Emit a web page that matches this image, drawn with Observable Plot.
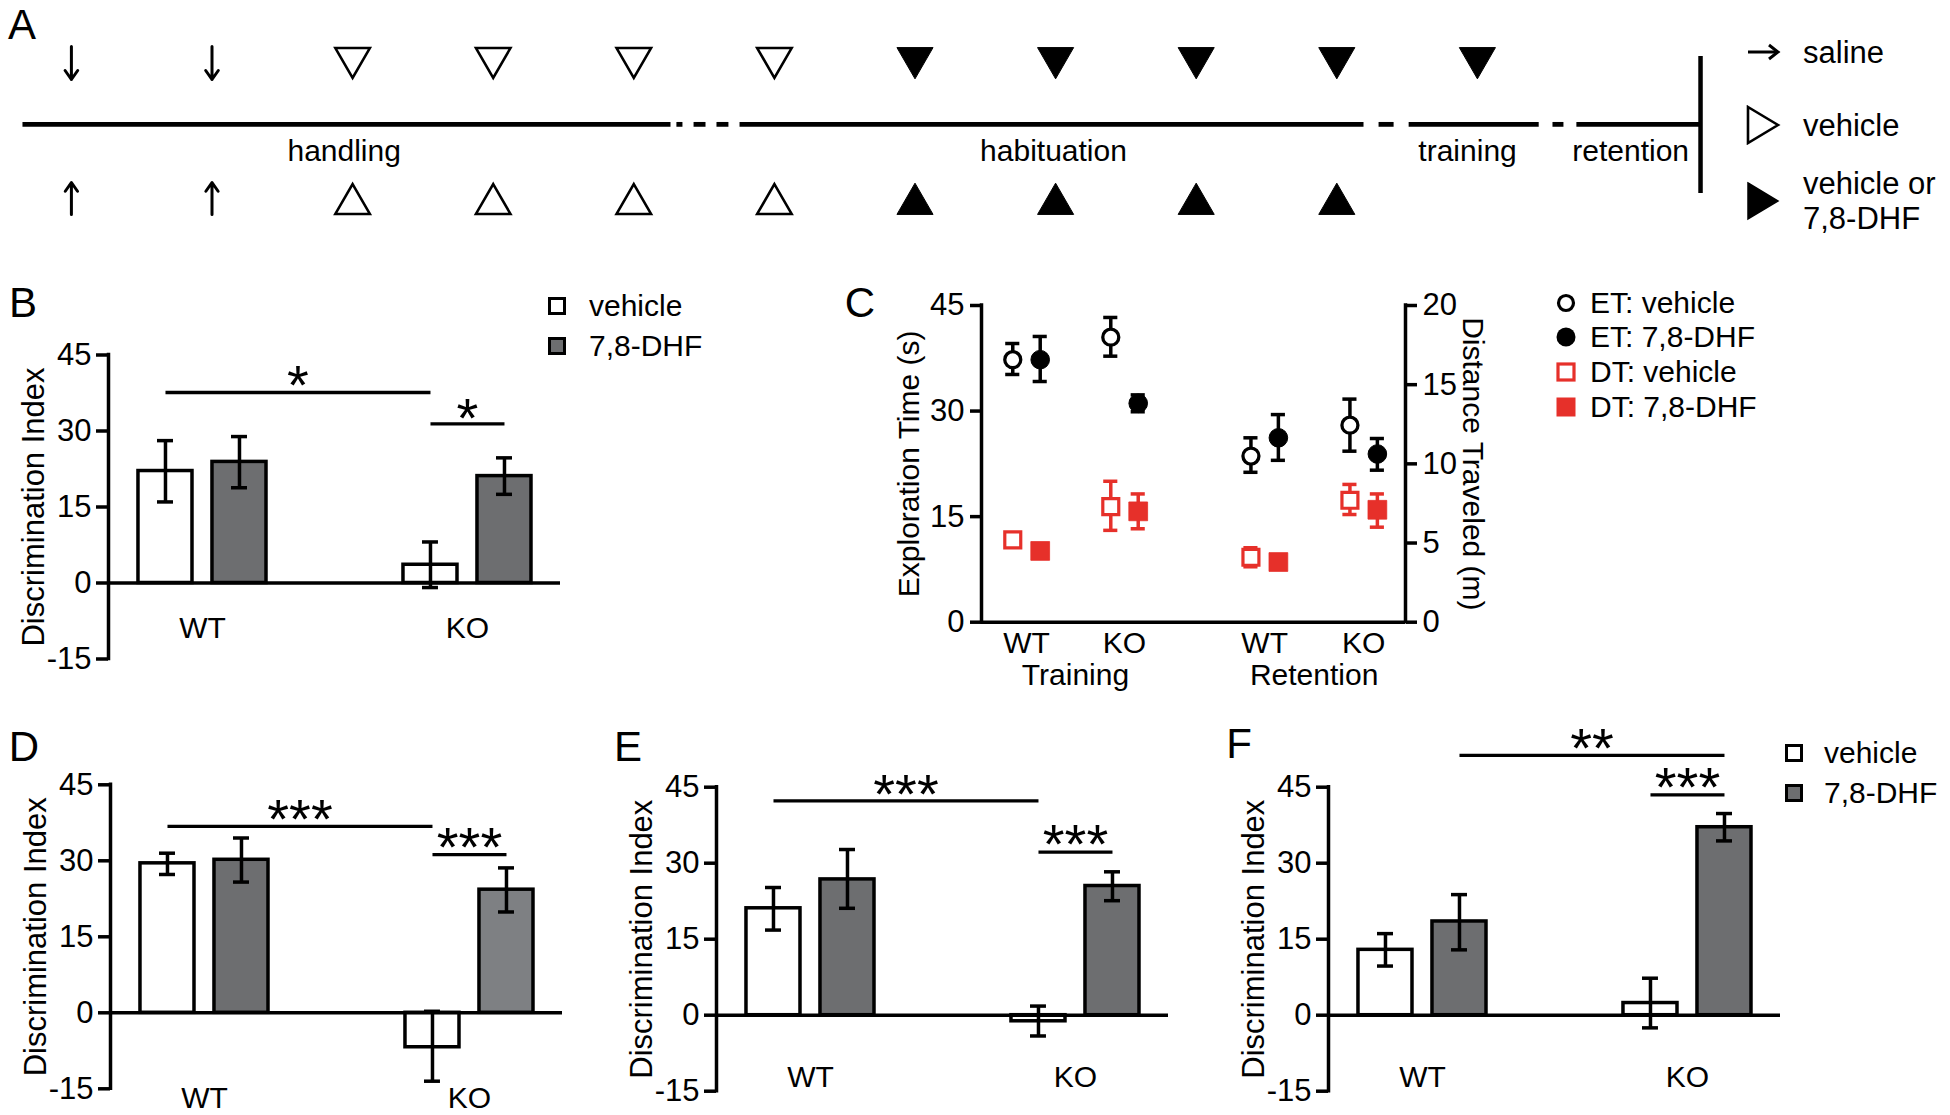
<!DOCTYPE html>
<html>
<head>
<meta charset="utf-8">
<script src="https://cdn.jsdelivr.net/npm/d3@7"></script>
<script src="https://cdn.jsdelivr.net/npm/@observablehq/plot@0.6"></script>
<style>
html, body { margin: 0; padding: 0; background: #fff; }
#fig { position: relative; width: 1950px; height: 1115px; overflow: hidden; background: #fff;
  font-family: "Liberation Sans", Arial, Helvetica, sans-serif; color: #000; }
.letter { position: absolute; font-size: 42px; line-height: 1; transform: translate(-50%, -50%); }
</style>
</head>
<body>
<div id="fig"></div>
<script>
// ---------------- DATA ----------------
// Panel A: treatment schedule (positions in days)
const topDays = [0, 1, 2, 3, 4, 5, 6, 7, 8, 9, 10];
const topKinds = ["saline", "saline", "vehicle", "vehicle", "vehicle", "vehicle", "drug", "drug", "drug", "drug", "drug"];
const bottomDays = [0, 1, 2, 3, 4, 5, 6, 7, 8, 9];
const bottomKinds = ["saline", "saline", "vehicle", "vehicle", "vehicle", "vehicle", "drug", "drug", "drug", "drug"];
const timelineSegments = [[-0.348, 4.261], [4.303, 4.346], [4.425, 4.510], [4.588, 4.673], [4.752, 9.190],
  [9.297, 9.404], [9.511, 10.436], [10.534, 10.612], [10.704, 11.587]];
const phaseLabels = ["handling", "habituation", "training", "retention"];
const phaseDays = [1.94, 6.985, 9.93, 11.09];
const scheduleLegend = ["saline", "vehicle", "vehicle or", "7,8-DHF"];

// Bar panels B, D, E, F  (order: WT vehicle, WT 7,8-DHF, KO vehicle, KO 7,8-DHF)
const groups = ["WT", "KO"];
const treatments = ["vehicle", "7,8-DHF"];
const yTicks = [-15, 0, 15, 30, 45];

const B_mean = [22.1, 23.9, 3.6, 21.1];
const B_low = [16.0, 18.8, -0.9, 17.5];
const B_high = [28.1, 28.9, 8.1, 24.7];
const B_sig = [{a: 0, b: 2, y: 37.6, label: "*", ly: 40.2}, {a: 2, b: 3, y: 31.4, label: "*", ly: 33.8}];

const D_mean = [29.5, 30.2, -6.8, 24.3];
const D_low = [27.3, 25.8, -13.5, 19.9];
const D_high = [31.5, 34.5, 0.3, 28.6];
const D_sig = [{a: 0, b: 2, y: 36.8, label: "***", ly: 39.4}, {a: 2, b: 3, y: 31.2, label: "***", ly: 33.8}];

const E_mean = [21.1, 26.8, -1.2, 25.5];
const E_low = [16.8, 21.1, -4.1, 22.6];
const E_high = [25.2, 32.7, 1.8, 28.3];
const E_sig = [{a: 0, b: 2, y: 42.3, label: "***", ly: 44.8}, {a: 2, b: 3, y: 32.2, label: "***", ly: 34.9}];

const F_mean = [12.9, 18.5, 2.4, 37.1];
const F_low = [9.7, 12.9, -2.5, 34.4];
const F_high = [16.1, 23.8, 7.3, 39.8];
const F_sig = [{a: 1, b: 3, y: 51.3, label: "**", ly: 53.9}, {a: 2, b: 3, y: 43.5, label: "***", ly: 46.3}];

// Panel C (order: Training WT, Training KO, Retention WT, Retention KO)
const C_genotypes = ["WT", "KO", "WT", "KO"];
const C_phases = ["Training", "Retention"];
const ET_veh_mean = [37.3, 40.5, 23.6, 28.0];
const ET_veh_low = [35.2, 37.8, 21.3, 24.3];
const ET_veh_high = [39.6, 43.3, 26.2, 31.7];
const ET_dhf_mean = [37.3, 31.1, 26.2, 23.9];
const ET_dhf_low = [34.2, 29.9, 23.0, 21.6];
const ET_dhf_high = [40.6, 32.3, 29.5, 26.1];
const DT_veh_mean = [5.2, 7.3, 4.1, 7.7];
const DT_veh_low = [4.9, 5.8, 3.5, 6.8];
const DT_veh_high = [5.5, 8.9, 4.7, 8.7];
const DT_dhf_mean = [4.5, 7.0, 3.8, 7.1];
const DT_dhf_low = [4.3, 5.9, 3.6, 6.0];
const DT_dhf_high = [4.7, 8.1, 4.0, 8.1];
const C_legend = ["ET: vehicle", "ET: 7,8-DHF", "DT: vehicle", "DT: 7,8-DHF"];

// ---------------- LAYOUT / STYLE ----------------
const FONT = '"Liberation Sans", Arial, Helvetica, sans-serif';
const GRAY = "#6d6e70";
const RED = "#e6302a";
const baseStyle = {fontFamily: FONT, fontSize: "30px", background: "transparent", overflow: "visible", color: "black"};
const fig = document.getElementById("fig");
function put(node, left, top) {
  node.style.position = "absolute";
  node.style.left = left + "px";
  node.style.top = top + "px";
  node.style.maxWidth = "none";
  fig.appendChild(node);
}

// ---------------- PANEL A ----------------
const triDown = {draw(ctx, size) {
  const y = Math.sqrt(size / (3 * Math.sqrt(3)));
  ctx.moveTo(0, 2 * y); ctx.lineTo(-Math.sqrt(3) * y, -y); ctx.lineTo(Math.sqrt(3) * y, -y); ctx.closePath();
}};
const schedTop = topDays.map((d, i) => ({day: d, kind: topKinds[i]}));
const schedBottom = bottomDays.map((d, i) => ({day: d, kind: bottomKinds[i]}));
const TOP_ROW = 2.5, BOTTOM_ROW = -3, LABEL_ROW = -1;
const timelineEnd = timelineSegments[timelineSegments.length - 1][1];

const plotA = Plot.plot({
  width: 1950, height: 245,
  marginLeft: 70.9, marginRight: 473.1, marginTop: 57.5, marginBottom: 41.5,
  x: {domain: [0, 10], axis: null},
  y: {domain: [-3, 2.5], axis: null},
  style: baseStyle,
  marks: [
    Plot.link(timelineSegments, {x1: d => d[0], x2: d => d[1], y1: 0, y2: 0, strokeWidth: 4.8}),
    Plot.ruleX([timelineEnd], {y1: 2.56, y2: -2.6, strokeWidth: 4.5}),
    Plot.arrow(schedTop.filter(d => d.kind === "saline"), {x1: "day", x2: "day", y1: 2.933, y2: 1.69, strokeWidth: 3, headLength: 8, headAngle: 70}),
    Plot.arrow(schedBottom.filter(d => d.kind === "saline"), {x1: "day", x2: "day", y1: -3.396, y2: -2.19, strokeWidth: 3, headLength: 8, headAngle: 70}),
    Plot.dot(schedTop.filter(d => d.kind === "vehicle"), {x: "day", y: TOP_ROW, symbol: triDown, r: 12.8, fill: "white", stroke: "black", strokeWidth: 2.6}),
    Plot.dot(schedTop.filter(d => d.kind === "drug"), {x: "day", y: TOP_ROW, symbol: triDown, r: 13.4, fill: "black", stroke: "black", strokeWidth: 1}),
    Plot.dot(schedBottom.filter(d => d.kind === "vehicle"), {x: "day", y: BOTTOM_ROW, symbol: "triangle", r: 12.8, fill: "white", stroke: "black", strokeWidth: 2.6}),
    Plot.dot(schedBottom.filter(d => d.kind === "drug"), {x: "day", y: BOTTOM_ROW, symbol: "triangle", r: 13.4, fill: "black", stroke: "black", strokeWidth: 1}),
    Plot.text(phaseLabels, {x: (d, i) => phaseDays[i], y: LABEL_ROW, fontSize: 30})
  ]
});
put(plotA, 0, 0);

// ---------------- BAR PANELS ----------------
const GROUP_STEP = 3.581, SLOT0 = 0.77, BAR_W = 0.73, CAP = 0.108, X_END = 6.108;
const barX = i => Math.floor(i / 2) * GROUP_STEP + (i % 2) + SLOT0;

function barPanel(p) {
  const rows = p.mean.map((m, i) => ({i, group: groups[Math.floor(i / 2)], treatment: treatments[i % 2],
    mean: m, low: p.low[i], high: p.high[i], fill: p.fills[i]}));
  const sw = 3.5;
  return Plot.plot({
    width: p.width, height: p.height,
    marginLeft: p.axisX, marginRight: p.width - p.axisX - 452,
    marginTop: p.top45, marginBottom: p.height - p.top45 - 304,
    x: {domain: [0, X_END], axis: null},
    y: {domain: [-15, 45], axis: null, label: null},
    color: {type: "identity"},
    style: baseStyle,
    marks: [
      Plot.rect(rows, {x1: d => barX(d.i) - BAR_W / 2, x2: d => barX(d.i) + BAR_W / 2, y1: 0, y2: "mean",
        fill: "fill", stroke: "black", strokeWidth: sw}),
      Plot.ruleX(rows, {x: d => barX(d.i), y1: "low", y2: "high", strokeWidth: sw}),
      Plot.ruleY(rows, {y: "low", x1: d => barX(d.i) - CAP, x2: d => barX(d.i) + CAP, strokeWidth: sw}),
      Plot.ruleY(rows, {y: "high", x1: d => barX(d.i) - CAP, x2: d => barX(d.i) + CAP, strokeWidth: sw}),
      Plot.ruleY([0], {strokeWidth: sw}),
      Plot.ruleX([0], {strokeWidth: sw, strokeLinecap: "square"}),
      Plot.axisY({ticks: yTicks, tickSize: 12, tickPadding: 5, tickFormat: d => String(d), strokeWidth: sw, fontSize: 31, label: null}),
      Plot.text(groups, {x: (d, i) => i * GROUP_STEP + SLOT0 + 0.5, y: p.labelY, fontSize: 30}),
      Plot.text(["Discrimination Index"], {frameAnchor: "left", textAnchor: "middle", dx: -74, rotate: -90, fontSize: 31}),
      Plot.link(p.sig, {x1: d => barX(d.a), x2: d => barX(d.b), y1: "y", y2: "y", strokeWidth: 3.3}),
      Plot.text(p.sig, {x: d => (barX(d.a) + barX(d.b)) / 2, y: "ly", text: "label", fontSize: 56, dy: 7})
    ]
  });
}

put(barPanel({width: 850, height: 450, axisX: 108, top45: 104.5, mean: B_mean, low: B_low, high: B_high,
  sig: B_sig, labelY: -9.0, fills: ["white", GRAY, "white", GRAY]}), 0, 250);
put(barPanel({width: 600, height: 415, axisX: 110, top45: 84.3, mean: D_mean, low: D_low, high: D_high,
  sig: D_sig, labelY: -16.9, fills: ["white", GRAY, "white", "#7e8083"]}), 0, 700);
put(barPanel({width: 600, height: 415, axisX: 116, top45: 86.7, mean: E_mean, low: E_low, high: E_high,
  sig: E_sig, labelY: -12.2, fills: ["white", GRAY, "white", GRAY]}), 600, 700);
put(barPanel({width: 750, height: 415, axisX: 128, top45: 86.7, mean: F_mean, low: F_low, high: F_high,
  sig: F_sig, labelY: -12.2, fills: ["white", GRAY, "white", GRAY]}), 1200, 700);

// ---------------- PANEL C ----------------
const C_SLOT = [1, 2, 3.43, 4.44], C_OFF = 0.14, C_CAP = 0.072, C_DOMAIN = [0.541, 4.867];
const cRows = (mean, low, high, t) => mean.map((m, j) => ({j, genotype: C_genotypes[j], mean: m, low: low[j], high: high[j],
  x: C_SLOT[j] + (t === 0 ? -C_OFF : C_OFF)}));
const etVeh = cRows(ET_veh_mean, ET_veh_low, ET_veh_high, 0);
const etDhf = cRows(ET_dhf_mean, ET_dhf_low, ET_dhf_high, 1);
const dtVeh = cRows(DT_veh_mean, DT_veh_low, DT_veh_high, 0);
const dtDhf = cRows(DT_dhf_mean, DT_dhf_low, DT_dhf_high, 1);
const cBox = {width: 1100, height: 450, marginLeft: 131, marginRight: 545, marginTop: 55, marginBottom: 78.3};

function errMarks(rows, color) {
  return [
    Plot.ruleX(rows, {x: "x", y1: "low", y2: "high", stroke: color, strokeWidth: 3.5}),
    Plot.ruleY(rows, {y: "low", x1: d => d.x - C_CAP, x2: d => d.x + C_CAP, stroke: color, strokeWidth: 3.5}),
    Plot.ruleY(rows, {y: "high", x1: d => d.x - C_CAP, x2: d => d.x + C_CAP, stroke: color, strokeWidth: 3.5})
  ];
}

const plotDT = Plot.plot({
  ...cBox,
  x: {domain: C_DOMAIN, axis: null},
  y: {domain: [0, 20], axis: null, label: null},
  style: baseStyle,
  marks: [
    ...errMarks([...dtVeh, ...dtDhf], RED),
    Plot.dot(dtVeh, {x: "x", y: "mean", symbol: "square", r: 9.0, fill: "white", stroke: RED, strokeWidth: 3.2}),
    Plot.dot(dtDhf, {x: "x", y: "mean", symbol: "square", r: 10.6, fill: RED, stroke: RED, strokeWidth: 0.8}),
    Plot.ruleX([C_DOMAIN[1]], {strokeWidth: 3.5, strokeLinecap: "square"}),
    Plot.axisY({anchor: "right", ticks: [0, 5, 10, 15, 20], tickSize: 11, tickPadding: 6, tickFormat: d => String(d), strokeWidth: 3.5, fontSize: 31, label: null}),
    Plot.text(["Distance Traveled (m)"], {frameAnchor: "right", textAnchor: "middle", dx: 67, rotate: 90, fontSize: 30})
  ]
});
put(plotDT, 850, 250);

const plotET = Plot.plot({
  ...cBox,
  x: {domain: C_DOMAIN, axis: null},
  y: {domain: [0, 45], axis: null, label: null},
  style: baseStyle,
  marks: [
    ...errMarks([...etVeh, ...etDhf], "black"),
    Plot.dot(etVeh, {x: "x", y: "mean", r: 8, fill: "white", stroke: "black", strokeWidth: 3.3}),
    Plot.dot(etDhf, {x: "x", y: "mean", r: 9.3, fill: "black", stroke: "black", strokeWidth: 1}),
    Plot.ruleY([0], {strokeWidth: 3.5}),
    Plot.ruleX([C_DOMAIN[0]], {strokeWidth: 3.5, strokeLinecap: "square"}),
    Plot.axisY({ticks: [0, 15, 30, 45], tickSize: 11, tickPadding: 6, tickFormat: d => String(d), strokeWidth: 3.5, fontSize: 31, label: null}),
    Plot.text(C_genotypes, {x: (d, j) => C_SLOT[j], y: -3.0, fontSize: 30}),
    Plot.text(C_phases, {x: (d, k) => (C_SLOT[2 * k] + C_SLOT[2 * k + 1]) / 2, y: -7.6, fontSize: 30}),
    Plot.text(["Exploration Time (s)"], {frameAnchor: "left", textAnchor: "middle", dx: -72, rotate: -90, fontSize: 30})
  ]
});
put(plotET, 850, 250);

// ---------------- LEGENDS & LETTERS (HTML) ----------------
function legendRow(left, cy, icon, html, gap, fontSize, h, lineHeight) {
  const div = document.createElement("div");
  div.style.cssText = `position:absolute;left:${left}px;top:${cy - h / 2}px;height:${h}px;display:flex;align-items:center;` +
    `font-size:${fontSize}px;line-height:${lineHeight || 1};white-space:nowrap;font-family:${FONT};`;
  div.innerHTML = icon + `<span style="margin-left:${gap}px">${html}</span>`;
  fig.appendChild(div);
}
const sq = (fill) => `<svg width="18" height="18" style="flex:none"><rect x="1.5" y="1.5" width="15" height="15" fill="${fill}" stroke="black" stroke-width="3"/></svg>`;
// Panel A legend
legendRow(1747, 52, `<svg width="34" height="20" style="flex:none"><line x1="1" y1="10" x2="31" y2="10" stroke="black" stroke-width="3"/><polyline points="22,3 31,10 22,17" fill="none" stroke="black" stroke-width="3"/></svg>`,
  scheduleLegend[0], 22, 31, 40);
legendRow(1746, 125, `<svg width="35" height="40" style="flex:none"><polygon points="2,2 32,20 2,38" fill="white" stroke="black" stroke-width="2.6"/></svg>`,
  scheduleLegend[1], 22, 31, 44);
legendRow(1746, 201, `<svg width="35" height="40" style="flex:none"><polygon points="2,2 32,20 2,38" fill="black" stroke="black" stroke-width="1.5"/></svg>`,
  scheduleLegend[2] + "<br>" + scheduleLegend[3], 22, 31, 80, "35px");
// Panel B legend
legendRow(548, 306, sq("white"), treatments[0], 23, 30, 40);
legendRow(548, 346, sq(GRAY), treatments[1], 23, 30, 40);
// Panel F legend
legendRow(1785, 753, sq("white"), treatments[0], 21, 30, 40);
legendRow(1785, 793, sq(GRAY), treatments[1], 21, 30, 40);
// Panel C legend
const cIcons = [
  `<svg width="22" height="22" style="flex:none"><circle cx="11" cy="11" r="7.5" fill="white" stroke="black" stroke-width="3.2"/></svg>`,
  `<svg width="22" height="22" style="flex:none"><circle cx="11" cy="11" r="9.5" fill="black"/></svg>`,
  `<svg width="22" height="22" style="flex:none"><rect x="3" y="3" width="16" height="16" fill="white" stroke="${RED}" stroke-width="3.2"/></svg>`,
  `<svg width="22" height="22" style="flex:none"><rect x="1.5" y="1.5" width="19" height="19" fill="${RED}"/></svg>`
];
[303, 337, 372, 407].forEach((cy, k) => legendRow(1555, cy, cIcons[k], C_legend[k], 13, 30, 34));

// Panel letters
[["A", 22, 25], ["B", 23, 303], ["C", 860, 303], ["D", 24, 747], ["E", 628, 747], ["F", 1239, 744]].forEach(([t, x, y]) => {
  const s = document.createElement("div");
  s.className = "letter";
  s.textContent = t;
  s.style.left = x + "px";
  s.style.top = y + "px";
  fig.appendChild(s);
});
</script>
</body>
</html>
